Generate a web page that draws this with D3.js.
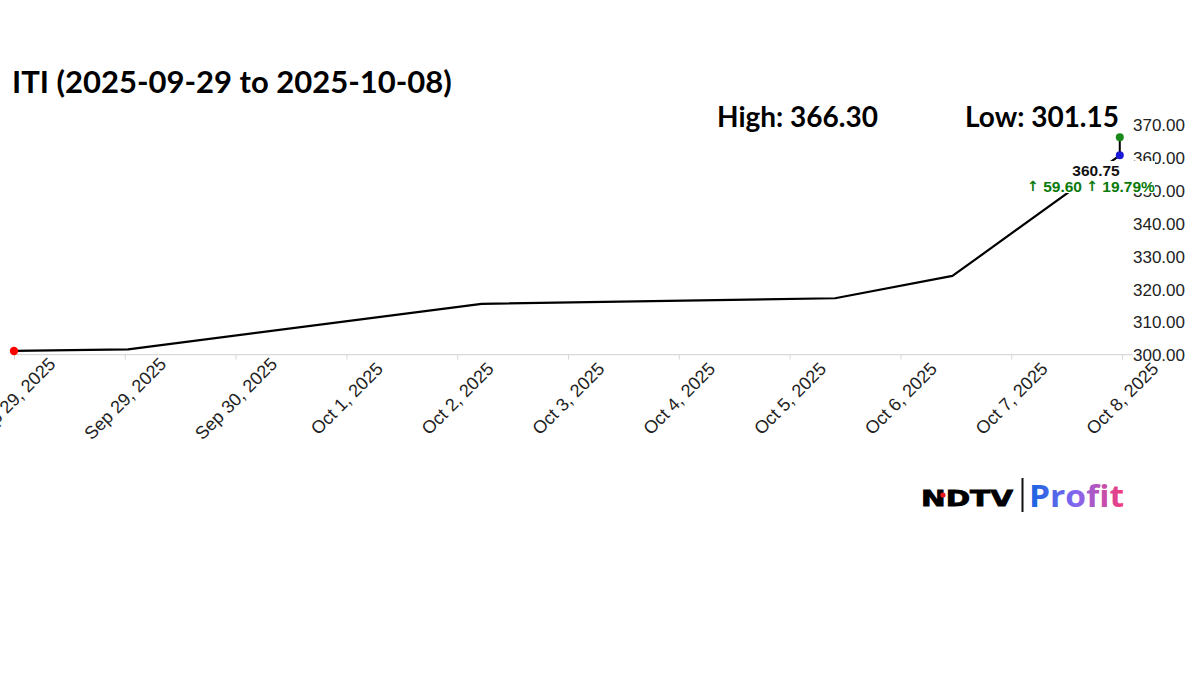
<!DOCTYPE html>
<html>
<head>
<meta charset="utf-8">
<script src="https://cdn.jsdelivr.net/npm/d3@7"></script>
<style>
  html, body { margin: 0; padding: 0; background: #fff; }
  svg { display: block; }
</style>
</head>
<body>
<svg id="chart" width="1200" height="675"></svg>
<script>
// ---- data ----
const titleText = "ITI (2025-09-29 to 2025-10-08)";
const tickLabels = ["Sep 29, 2025","Sep 29, 2025","Sep 30, 2025","Oct 1, 2025","Oct 2, 2025","Oct 3, 2025","Oct 4, 2025","Oct 5, 2025","Oct 6, 2025","Oct 7, 2025","Oct 8, 2025"];
const tickPos = [0,1,2,3,4,5,6,7,8,9,10];
const pointPos = [0, 1.03, 4.22, 7.41, 8.47, 9.98];
const closeValues = [301.15, 301.6, 315.5, 317.2, 324.0, 360.75];
const yTicks = [300, 310, 320, 330, 340, 350, 360, 370];
const highValue = 366.30;
const lowValue = 301.15;
const lastValue = 360.75;
const changeValue = 59.60;
const changePct = 19.79;

const svg = d3.select("#chart");
const x = d3.scaleLinear().domain([0, 10]).range([14, 1122]);
const y = d3.scaleLinear().domain([300, 370]).range([354.7, 125]);

// title
svg.append("text").attr("x", 12).attr("y", 93)
  .attr("font-family", "Lato, 'Open Sans', sans-serif").attr("font-weight", 700)
  .attr("font-size", 31).attr("fill", "#000").text(titleText);

// High / Low
svg.append("text").attr("x", 717).attr("y", 127)
  .attr("font-family", "Lato, sans-serif").attr("font-weight", 700)
  .attr("font-size", 28).attr("fill", "#000").text("High: " + highValue.toFixed(2));
svg.append("text").attr("x", 965).attr("y", 127)
  .attr("font-family", "Lato, sans-serif").attr("font-weight", 700)
  .attr("font-size", 28).attr("fill", "#000").text("Low: " + lowValue.toFixed(2));

// x axis
const xAxis = d3.axisBottom(x).tickValues(tickPos).tickSize(5).tickSizeOuter(0)
  .tickFormat((d, i) => tickLabels[i]);
const gx = svg.append("g").attr("transform", "translate(0,354.7)").call(xAxis);
gx.select(".domain").attr("stroke", "#d9d9d9").attr("stroke-width", 1.3)
  .attr("d", `M${x(0)},0H1133`);
gx.selectAll(".tick line").attr("stroke", "#d9d9d9");
gx.selectAll(".tick text")
  .attr("font-family", "'Liberation Sans', Arial, sans-serif").attr("font-size", 18)
  .attr("fill", "#222").attr("text-anchor", "middle").attr("dy", null).attr("y", null)
  .attr("dominant-baseline", "central")
  .attr("transform", "translate(0,44) rotate(-45)");

// line
const line = d3.line().x((d, i) => x(pointPos[i])).y(d => y(d));
svg.append("path").datum(closeValues).attr("d", line)
  .attr("fill", "none").attr("stroke", "#000").attr("stroke-width", 2.2)
  .attr("stroke-linejoin", "round");

// y axis (right)
const yAxis = d3.axisRight(y).tickValues(yTicks).tickSize(0).tickPadding(0)
  .tickFormat(d3.format(".2f"));
const gy = svg.append("g").attr("transform", "translate(1133,0)").call(yAxis);
gy.select(".domain").remove();
gy.selectAll(".tick text")
  .attr("font-family", "'Liberation Sans', Arial, sans-serif").attr("font-size", 17)
  .attr("fill", "#222").attr("x", 0).attr("dy", "0.35em");

// start (low) dot
svg.append("circle").attr("cx", x(pointPos[0])).attr("cy", y(closeValues[0])).attr("r", 4.2)
  .attr("fill", "#ff0000");

// annotation background + texts
const lastX = x(pointPos[pointPos.length - 1]);
svg.append("rect").attr("x", 1027).attr("y", 161).attr("width", 128).attr("height", 32).attr("fill", "#fff");
svg.append("text").attr("x", 1096).attr("y", 170).attr("text-anchor", "middle")
  .attr("dominant-baseline", "central")
  .attr("font-family", "'Liberation Sans', Arial, sans-serif").attr("font-weight", 700)
  .attr("font-size", 15.5).attr("fill", "#111").text(lastValue.toFixed(2));
const g2 = svg.append("text").attr("x", 1091).attr("y", 185.5).attr("text-anchor", "middle")
  .attr("dominant-baseline", "central")
  .attr("font-family", "'Liberation Sans', Arial, sans-serif").attr("font-weight", 700)
  .attr("font-size", 15.5).attr("fill", "#0a7a0a");
g2.append("tspan").attr("font-family", "'DejaVu Sans', sans-serif").attr("font-size", 14).text("\u2191");
g2.append("tspan").text(" " + changeValue.toFixed(2) + " ");
g2.append("tspan").attr("font-family", "'DejaVu Sans', sans-serif").attr("font-size", 14).text("\u2191");
g2.append("tspan").text(" " + changePct.toFixed(2) + "%");

// high-low marker at last point
svg.append("line").attr("x1", lastX).attr("x2", lastX)
  .attr("y1", y(highValue)).attr("y2", y(lastValue))
  .attr("stroke", "#000").attr("stroke-width", 2);
svg.append("circle").attr("cx", lastX).attr("cy", y(lastValue)).attr("r", 4)
  .attr("fill", "#1a1ad6");
svg.append("circle").attr("cx", lastX).attr("cy", y(highValue)).attr("r", 4)
  .attr("fill", "#1a8a1a");

// logo
const defs = svg.append("defs");
const grad = defs.append("linearGradient").attr("id", "pg").attr("x1", "0%").attr("x2", "100%");
grad.append("stop").attr("offset", "0%").attr("stop-color", "#1565e0");
grad.append("stop").attr("offset", "50%").attr("stop-color", "#8468f0");
grad.append("stop").attr("offset", "100%").attr("stop-color", "#f53a78");
svg.append("text").attr("x", 921).attr("y", 506)
  .attr("font-family", "'DejaVu Sans', sans-serif").attr("font-weight", 700)
  .attr("font-size", 21).attr("fill", "#000").attr("stroke", "#000").attr("stroke-width", 0.8)
  .attr("textLength", 92).attr("lengthAdjust", "spacingAndGlyphs").text("NDTV");
svg.append("circle").attr("cx", 943).attr("cy", 495).attr("r", 2.6).attr("fill", "#e8191f");
svg.append("rect").attr("x", 1021.5).attr("y", 478).attr("width", 2).attr("height", 34).attr("fill", "#111");
svg.append("text").attr("x", 1029).attr("y", 507)
  .attr("font-family", "'Open Sans', sans-serif").attr("font-weight", 700)
  .attr("font-size", 31).attr("fill", "url(#pg)")
  .attr("textLength", 95).attr("lengthAdjust", "spacingAndGlyphs").text("Profit");
</script>
</body>
</html>
